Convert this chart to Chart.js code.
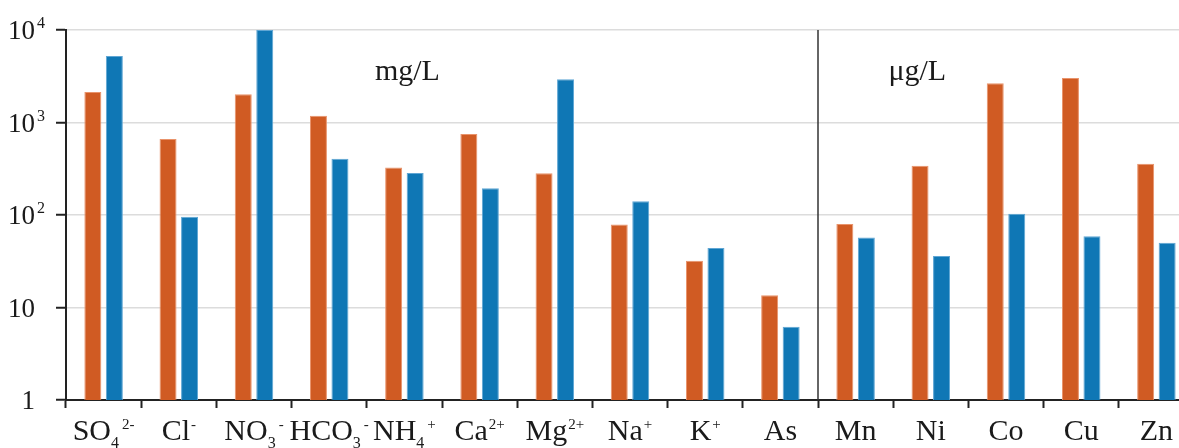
<!DOCTYPE html>
<html>
<head>
<meta charset="utf-8">
<script src="https://cdn.jsdelivr.net/npm/chart.js@4.4.0/dist/chart.umd.min.js"></script>
<style>
  html, body { margin: 0; padding: 0; background: #fff; overflow: hidden; }
</style>
</head>
<body>
<canvas id="chart" width="1200" height="448"></canvas>
<script>
// labels are split in base text / subscript / superscript
var labelBase = ['SO', 'Cl', 'NO', 'HCO', 'NH', 'Ca', 'Mg', 'Na', 'K', 'As', 'Mn', 'Ni', 'Co', 'Cu', 'Zn'];
var labelSub = ['4', '', '3', '3', '4', '', '', '', '', '', '', '', '', '', ''];
var labelSup = ['2-', '-', '-', '-', '+', '2+', '2+', '+', '+', '', '', '', '', '', ''];
var orangeValues = [2140, 665, 2020, 1180, 327, 750, 282, 79, 32, 13.6, 80, 341, 2650, 3030, 358];
var blueValues = [5250, 96, 10000, 406, 284, 195, 2930, 141, 44, 6.2, 57, 36, 103, 59, 50];
var yTicks = [1, 10, 100, 1000, 10000];
var yTickBase = ['1', '10', '10', '10', '10'];
var yTickSup = ['', '', '2', '3', '4'];
var unitLabels = ['mg/L', 'μg/L'];

var FONT = '"Liberation Serif", "Times New Roman", serif';

var textPlugin = {
  id: 'ionText',
  afterDraw: function (chart) {
    var ctx = chart.ctx;
    var xs = chart.scales.x, ys = chart.scales.y;
    ctx.save();

    // line between the mg/L and ug/L groups
    var sepX = (xs.getPixelForValue(9) + xs.getPixelForValue(10)) / 2;
    ctx.strokeStyle = '#333';
    ctx.lineWidth = 1.5;
    ctx.beginPath();
    ctx.moveTo(sepX, ys.top);
    ctx.lineTo(sepX, ys.bottom);
    ctx.stroke();

    ctx.fillStyle = '#1a1a1a';
    ctx.textBaseline = 'alphabetic';
    ctx.textAlign = 'left';

    // x labels
    var base = ys.bottom + 40;
    for (var i = 0; i < labelBase.length; i++) {
      ctx.font = '30px ' + FONT;
      var wb = ctx.measureText(labelBase[i]).width;
      ctx.font = '16px ' + FONT;
      var ws = labelSub[i] ? ctx.measureText(labelSub[i]).width + 2 : 0;
      ctx.font = '15px ' + FONT;
      var wp = labelSup[i] ? ctx.measureText(labelSup[i]).width + 1 : 0;
      var x0 = xs.getPixelForValue(i) - (wb + ws + wp) / 2;
      ctx.font = '30px ' + FONT;
      ctx.fillText(labelBase[i], x0, base);
      ctx.font = '16px ' + FONT;
      if (labelSub[i]) ctx.fillText(labelSub[i], x0 + wb, base + 8);
      ctx.font = '15px ' + FONT;
      if (labelSup[i]) ctx.fillText(labelSup[i], x0 + wb + ws + 1, base - 11);
    }

    // y labels
    for (var j = 0; j < yTicks.length; j++) {
      var y = ys.getPixelForValue(yTicks[j]);
      var right = ys.right - 31;
      ctx.font = '27px ' + FONT;
      ctx.textAlign = 'right';
      ctx.fillText(yTickBase[j], right, y + 9);
      ctx.textAlign = 'left';
      ctx.font = '16px ' + FONT;
      if (yTickSup[j]) ctx.fillText(yTickSup[j], right + 2, y - 2);
    }

    // unit notes
    ctx.font = '30px ' + FONT;
    ctx.textAlign = 'center';
    ctx.fillText(unitLabels[0], xs.getPixelForValue(4.04), ys.getPixelForValue(2850));
    ctx.fillText(unitLabels[1], xs.getPixelForValue(10.82), ys.getPixelForValue(2850));
    ctx.restore();
  }
};

function drawChart() {
  var ctx = document.getElementById('chart').getContext('2d');
  return new Chart(ctx, {
    type: 'bar',
    data: {
      labels: labelBase.map(function (b, i) { return b + labelSub[i] + labelSup[i]; }),
      datasets: [{
        data: orangeValues,
        backgroundColor: '#D05B23',
        borderColor: '#E9936B',
        borderWidth: 1,
        categoryPercentage: 0.572,
        barPercentage: 0.79
      }, {
        data: blueValues,
        backgroundColor: '#0F77B5',
        borderColor: '#5FA6D4',
        borderWidth: 1,
        categoryPercentage: 0.572,
        barPercentage: 0.79
      }]
    },
    options: {
      responsive: false,
      animation: false,
      layout: { padding: { top: 30, right: 6, left: 0, bottom: 0 } },
      plugins: { legend: { display: false }, tooltip: { enabled: false } },
      scales: {
        x: {
          ticks: { display: false },
          grid: {
            drawOnChartArea: false,
            offset: true,
            tickLength: 8,
            tickColor: '#222',
            tickWidth: 2
          },
          border: { color: '#222', width: 2 },
          afterFit: function (scale) { scale.height = 48; }
        },
        y: {
          type: 'logarithmic',
          min: 1,
          max: 10000,
          ticks: { display: false },
          afterBuildTicks: function (scale) {
            scale.ticks = yTicks.map(function (v) { return { value: v, major: true }; });
          },
          grid: {
            color: function (c) { return c.tick && c.tick.value === 1 ? 'rgba(0,0,0,0)' : '#dcdcdc'; },
            lineWidth: 1.5,
            tickLength: 10,
            tickColor: '#222',
            tickWidth: 2
          },
          border: { color: '#222', width: 2 },
          afterFit: function (scale) { scale.width = 66; }
        }
      }
    },
    plugins: [textPlugin]
  });
}

// wait for the serif face before drawing text on canvas
var myChart;
Promise.all([
  document.fonts.load('30px "Liberation Serif"'),
  document.fonts.load('16px "Liberation Serif"')
]).then(function () { myChart = drawChart(); }, function () { myChart = drawChart(); });
</script>
</body>
</html>
